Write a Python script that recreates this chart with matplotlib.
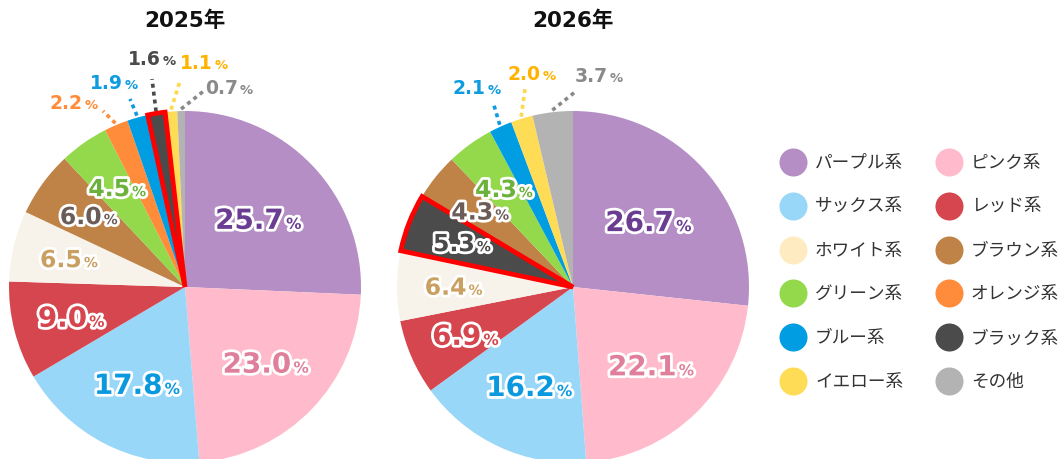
import numpy as np
import matplotlib
matplotlib.use('Agg')
import matplotlib.pyplot as plt
import matplotlib.patheffects as pe

plt.rcParams['font.family'] = ['DejaVu Sans', 'Noto Sans CJK JP']

# ---- data ----
years = ['2025年', '2026年']
names_2025 = ['パープル系', 'ピンク系', 'サックス系', 'レッド系', 'ホワイト系', 'ブラウン系',
              'グリーン系', 'オレンジ系', 'ブルー系', 'ブラック系', 'イエロー系', 'その他']
vals_2025 = [25.7, 23.0, 17.8, 9.0, 6.5, 6.0, 4.5, 2.2, 1.9, 1.6, 1.1, 0.7]
names_2026 = ['パープル系', 'ピンク系', 'サックス系', 'レッド系', 'ホワイト系', 'ブラック系',
              'ブラウン系', 'グリーン系', 'ブルー系', 'イエロー系', 'その他']
vals_2026 = [26.7, 22.1, 16.2, 6.9, 6.4, 5.3, 4.3, 4.3, 2.1, 2.0, 3.7]
legend_names = names_2025
highlight = 'ブラック系'

# ---- styles ----
slice_colors = {'パープル系': '#b48ec4', 'ピンク系': '#ffbacb', 'サックス系': '#98d7f8',
                'レッド系': '#d6464f', 'ホワイト系': '#f8f3ea', 'ブラウン系': '#bf8347',
                'グリーン系': '#93d94b', 'オレンジ系': '#ff8c3a', 'ブルー系': '#009de2',
                'ブラック系': '#4b4b4b', 'イエロー系': '#ffdc55', 'その他': '#b3b3b3'}
legend_colors = dict(slice_colors, **{'ホワイト系': '#ffebc1'})
text_colors = {'パープル系': '#6a3d92', 'ピンク系': '#e07f9b', 'サックス系': '#0a98df',
               'レッド系': '#d6464f', 'ホワイト系': '#c9a061', 'ブラウン系': '#6b5c57',
               'グリーン系': '#6bb13c', 'オレンジ系': '#ff8c3a', 'ブルー系': '#0f9be0',
               'ブラック系': '#4a4a4a', 'イエロー系': '#ffb300', 'その他': '#8a8a8a'}
leader_colors = dict(text_colors, **{'イエロー系': '#ffd84a'})

W, H = 1059, 460
centers = [(185, H - 288), (573, H - 288)]
R = 176
# outside labels: text centre offset from pie centre, and leader end offset from text centre
# (pixels, x right, y up)
outside = [
    {'オレンジ系': ((-113, 186), (31, -10)), 'ブルー系': ((-73, 206), (18, -18)),
     'ブラック系': ((-35, 230), (2, -22)), 'イエロー系': ((17, 226), (-22, -20)),
     'その他': ((42, 201), (-22, -4))},
    {'ブルー系': ((-98, 201), (18, -16)), 'イエロー系': ((-43, 215), (-5, -17)),
     'その他': ((24, 213), (-22, -18))},
]

fig = plt.figure(figsize=(W / 100, H / 100), dpi=100)
ax = fig.add_axes([0, 0, 1, 1])

white_edge = [pe.withStroke(linewidth=4, foreground='white')]


def put_label(x, y, value, name, big, small, stroke):
    eff = white_edge if stroke else None
    base = y - big * 0.5
    num = ax.text(x - small * 0.6, base, f'{value:.1f}', ha='center', va='baseline',
                  fontsize=big, fontweight='bold', color=text_colors[name], path_effects=eff)
    ax.annotate('%', xy=(1, base), xycoords=(num, 'data'), xytext=(1.5, 0),
                textcoords='offset points', ha='left', va='baseline', fontsize=small,
                fontweight='bold', color=text_colors[name], path_effects=eff)
    return num


for k, (names, vals) in enumerate([(names_2025, vals_2025), (names_2026, vals_2026)]):
    cx, cy = centers[k]
    wedges, _ = ax.pie(vals, colors=[slice_colors[n] for n in names], startangle=90,
                       counterclock=False, center=(cx, cy), radius=R,
                       wedgeprops=dict(linewidth=0))
    for w, n, v in zip(wedges, names, vals):
        mid = np.deg2rad((w.theta1 + w.theta2) / 2)
        if n == highlight:
            w.set_edgecolor('#ff0000')
            w.set_linewidth(3.4)
            w.set_joinstyle('miter')
            w.set_zorder(3)
        if n in outside[k]:
            (dx, dy), (lx, ly) = outside[k][n]
            tx, ty = cx + dx, cy + dy
            put_label(tx, ty, v, n, 13.5, 9.5, False)
            ex, ey = cx + (R + 2) * np.cos(mid), cy + (R + 2) * np.sin(mid)
            ax.plot([ex, tx + lx], [ey, ty + ly], color=leader_colors[n], lw=2.6,
                    linestyle=(0, (1.1, 1.1)), solid_capstyle='butt',
                    dash_capstyle='butt')
        else:
            if v == max(vals):
                rf, big, small = 0.56, 20, 11
            elif v >= 10:
                rf, big, small = 0.62, 20, 11
            elif v >= 6.8:
                rf, big, small = 0.68, 20, 11
            else:
                rf, big, small = 0.69, 17, 10
            lx, ly = cx + rf * R * np.cos(mid), cy + rf * R * np.sin(mid)
            put_label(lx, ly, v, n, big, small, True)
    ax.text(cx, H - 21, years[k], ha='center', va='center', fontsize=15.5,
            fontweight='bold', color='#111111')

# legend (two columns, row-major)
for i, n in enumerate(legend_names):
    row, col = divmod(i, 2)
    x = 793 + 156 * col
    y = H - (163 + 43.8 * row)
    ax.scatter([x], [y], s=408, color=legend_colors[n], linewidths=0)
    ax.text(x + 22, y, n, ha='left', va='center', fontsize=12.7,
            family=['Noto Sans CJK JP'], color='#333333')

ax.set_xlim(0, W)
ax.set_ylim(0, H)
ax.set_aspect('equal')
ax.axis('off')
fig.savefig('out.png', dpi=100)
